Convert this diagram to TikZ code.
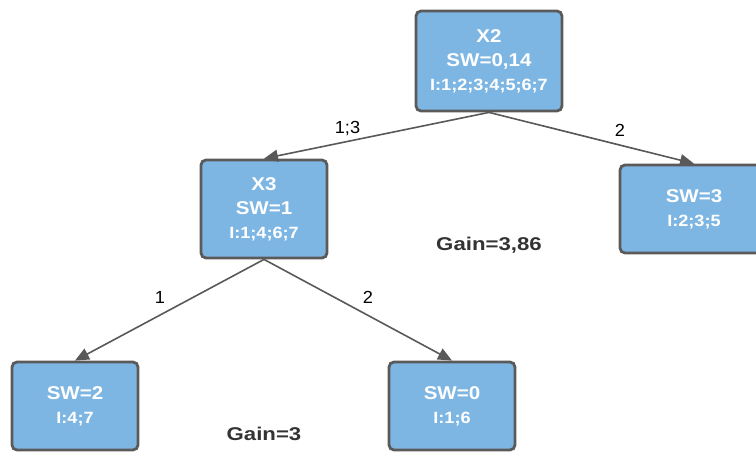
\documentclass[tikz,border=0pt]{standalone}
\usepackage{fontspec}
\setmainfont{Liberation Sans}
\newfontfamily\boxfont[FakeStretch=1.11]{Liberation Sans}
\newfontfamily\gainfont[FakeStretch=1.2]{Liberation Sans}
\newfontfamily\labelfont[FakeStretch=1.04]{Liberation Sans}
\usetikzlibrary{arrows.meta}
\definecolor{boxfill}{HTML}{7EB6E3}
\definecolor{boxline}{HTML}{5A5A5A}
\definecolor{edgecol}{HTML}{595959}
\definecolor{gaincol}{HTML}{333333}
\tikzset{
  treebox/.style={draw=boxline, line width=2.8pt, fill=boxfill, rounded corners=5pt,
    text=white, font=\boxfont\bfseries\fontsize{18.5}{24}\selectfont, align=center, inner sep=0pt},
  edge/.style={draw=edgecol, line width=1.6pt, -{Triangle[length=14pt,width=12pt]}},
  elabel/.style={font=\labelfont\fontsize{17.5}{20}\selectfont, text=black},
  gain/.style={font=\gainfont\bfseries\fontsize{18.5}{22}\selectfont, text=gaincol}
}
\newcommand{\idline}[1]{{\fontsize{16.3}{24}\selectfont #1}}
\begin{document}
\begin{tikzpicture}[x=1pt,y=-1pt]
\useasboundingbox (0,0) rectangle (756,455);
% tree nodes
\node[treebox, minimum width=146pt, minimum height=100pt] (root) at (489,61)
  {X2\\SW=0,14\\\idline{I:1;2;3;4;5;6;7}};
\node[treebox, minimum width=126pt, minimum height=98pt] (x3) at (264,209)
  {X3\\SW=1\\\idline{I:1;4;6;7}};
\node[treebox, minimum width=148pt, minimum height=88pt] (r) at (694,209)
  {SW=3\\\idline{I:2;3;5}};
\node[treebox, minimum width=126pt, minimum height=88pt] (ll) at (75,406)
  {SW=2\\\idline{I:4;7}};
\node[treebox, minimum width=126pt, minimum height=88pt] (lm) at (452,406)
  {SW=0\\\idline{I:1;6}};
% connectors
\draw[edge] (root.south) -- (x3.north);
\draw[edge] (root.south) -- (r.north);
\draw[edge] (x3.south) -- (ll.north);
\draw[edge] (x3.south) -- (lm.north);
% branch labels
\node[elabel] (l13) at (347.5,129) {1;3};
\node[elabel] (l2a) at (620,130) {2};
\node[elabel] (l1) at (160,297.5) {1};
\node[elabel] (l2b) at (368,297) {2};
% gains
\node[gain] (g1) at (489,245) {Gain=3,86};
\node[gain] (g2) at (264,434) {Gain=3};
\end{tikzpicture}
\end{document}
